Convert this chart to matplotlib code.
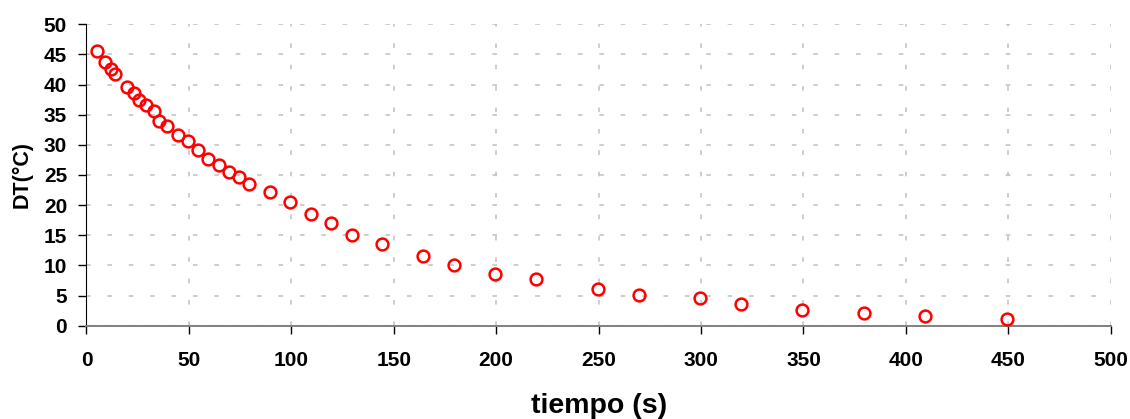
import matplotlib
matplotlib.use("Agg")
import matplotlib.pyplot as plt

tiempo = [5, 9, 12, 14, 20, 23, 25.5, 29, 33, 35.5, 39.5, 44.5, 49.5, 54.5, 59.5,
          64.5, 69.5, 74.5, 79.5, 89.5, 99.5, 109.5, 119.5, 129.5, 144.5, 164.5,
          179.5, 199.5, 219.5, 249.5, 269.5, 299.5, 319.5, 349.5, 379.5, 409.5, 449.5]
dT = [45.6, 43.7, 42.6, 41.7, 39.6, 38.6, 37.5, 36.6, 35.6, 34.0, 33.1, 31.7, 30.6,
      29.1, 27.6, 26.7, 25.5, 24.7, 23.5, 22.1, 20.6, 18.6, 17.1, 15.0, 13.6, 11.6,
      10.1, 8.6, 7.7, 6.1, 5.1, 4.6, 3.6, 2.65, 2.1, 1.6, 1.06]
x_ticks = [0, 50, 100, 150, 200, 250, 300, 350, 400, 450, 500]
y_ticks = [0, 5, 10, 15, 20, 25, 30, 35, 40, 45, 50]

plt.rcParams['font.family'] = ['Liberation Sans', 'DejaVu Sans']
fig = plt.figure(figsize=(11.3, 4.19), dpi=100)
ax = fig.add_axes([0.0765, 0.2227, 0.9065, 0.7193])

ax.plot(tiempo, dT, linestyle='none', marker='o', markersize=8.5,
        markerfacecolor='none', markeredgecolor='#ff0000', markeredgewidth=1.8,
        zorder=3, clip_on=False)

ax.set_xlim(0, 500)
ax.set_ylim(0, 50)
ax.set_xticks(x_ticks)
ax.set_yticks(y_ticks)
ax.tick_params(axis='both', direction='out', length=5.5, width=1, colors='black',
               labelsize=15)
for lab in ax.get_xticklabels() + ax.get_yticklabels():
    lab.set_fontweight('bold')
ax.tick_params(axis='x', pad=13)
ax.tick_params(axis='y', pad=8.5)

ax.grid(True, color='#c0c0c0', linestyle=(0, (3, 11)), linewidth=1.1)
ax.set_axisbelow(True)

ax.spines['top'].set_visible(False)
ax.spines['right'].set_visible(False)
ax.spines['left'].set_color('black')
ax.spines['bottom'].set_color('#808080')
ax.spines['bottom'].set_linewidth(1.4)

ax.set_xlabel('tiempo (s)', fontsize=20.5, fontweight='bold', labelpad=16)
ax.set_ylabel('DT(°C)', fontsize=15.5, fontweight='bold', labelpad=8)

fig.savefig('out.png', dpi=100)
